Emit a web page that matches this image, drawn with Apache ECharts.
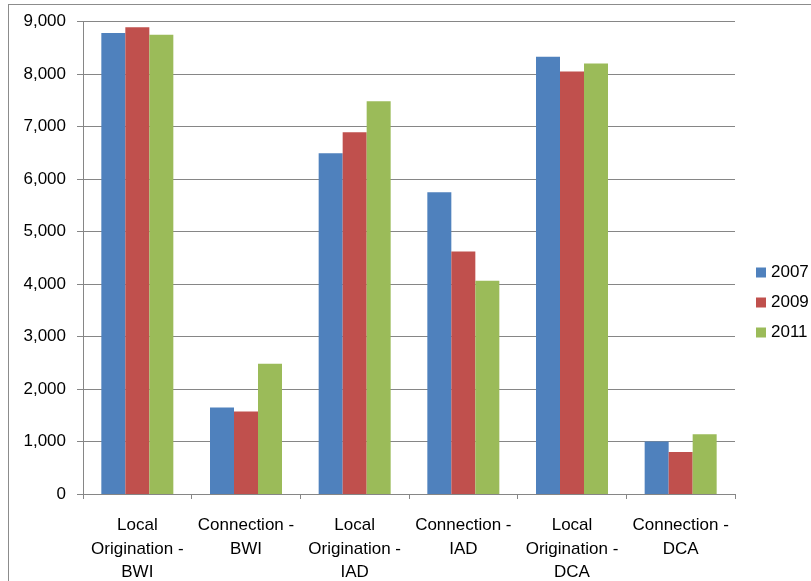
<!DOCTYPE html>
<html>
<head>
<meta charset="utf-8">
<script src="https://cdn.jsdelivr.net/npm/echarts@6/dist/echarts.min.js"></script>
<style>
html,body{margin:0;padding:0;background:#fff;}
#frame{position:absolute;left:8px;top:4px;width:803px;height:577px;border-left:1px solid #8c8c8c;border-top:1px solid #8c8c8c;}
#chart{position:absolute;left:0;top:0;width:811px;height:581px;}
</style>
</head>
<body>
<div id="frame"></div>
<div id="chart"></div>
<script>
const categories = ['Local\nOrigination -\nBWI','Connection -\nBWI','Local\nOrigination -\nIAD','Connection -\nIAD','Local\nOrigination -\nDCA','Connection -\nDCA'];
const seriesNames = ['2007','2009','2011'];
const values2007 = [8780, 1650, 6490, 5750, 8330, 1000];
const values2009 = [8890, 1570, 6890, 4620, 8050, 800];
const values2011 = [8750, 2480, 7480, 4060, 8200, 1140];
const colors = ['#4F81BD','#C0504D','#9BBB59'];

const chart = echarts.init(document.getElementById('chart'), null, {renderer:'canvas'});
const font = 'Liberation Sans, sans-serif';
const data = [values2007, values2009, values2011];
chart.setOption({
  animation:false,
  textStyle:{fontFamily:font},
  grid:{left:83,right:76,top:21.5,bottom:87,outerBoundsMode:'none',containLabel:false},
  legend:{
    orient:'vertical', left:756, top:264, padding:0, itemWidth:10, itemHeight:10, itemGap:13,
    icon:'rect',
    textStyle:{fontSize:17,color:'#000',fontFamily:font},
    data:seriesNames
  },
  xAxis:{
    type:'category', data:categories,
    axisLine:{lineStyle:{color:'#868686',width:1}},
    axisTick:{show:true,length:5,lineStyle:{color:'#868686'}},
    axisLabel:{fontSize:17,color:'#000',lineHeight:23.5,margin:20,fontFamily:font,interval:0}
  },
  yAxis:{
    type:'value', min:0, max:9000, interval:1000,
    axisLine:{show:true,lineStyle:{color:'#868686'}},
    axisTick:{show:true,length:6,lineStyle:{color:'#868686'}},
    splitLine:{lineStyle:{color:'#868686',width:1}},
    axisLabel:{fontSize:17,color:'#000',margin:17,fontFamily:font,
      formatter:v=>v.toLocaleString('en-US')}
  },
  series: seriesNames.map((n,i)=>({
    name:n, type:'bar', data:data[i], barWidth:24, barGap:'0%',
    itemStyle:{color:colors[i]}
  }))
});
</script>
</body>
</html>
